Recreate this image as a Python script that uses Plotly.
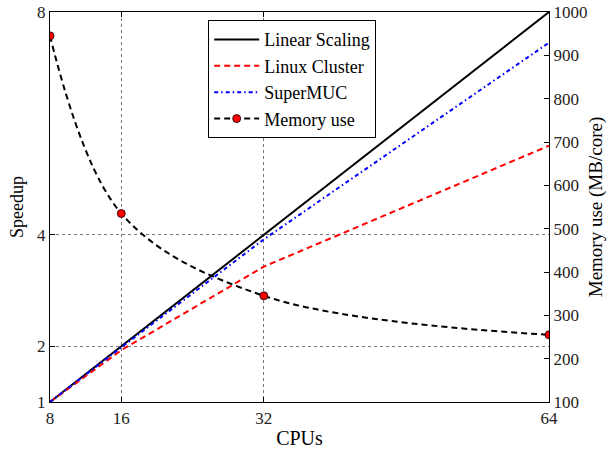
import plotly.graph_objects as go

cpus = [8, 16, 32, 64]
linear_scaling = [1, 2, 4, 8]
linux_cluster = [1, 1.93, 3.43, 5.6]
supermuc = [1, 1.98, 3.92, 7.45]
memory_use = [945, 535, 345, 255]

x_ticks = [8, 16, 32, 64]
y_ticks = [1, 2, 4, 8]
y2_ticks = [100, 200, 300, 400, 500, 600, 700, 800, 900, 1000]

FONT = "Liberation Serif"

fig = go.Figure()
fig.add_trace(go.Scatter(x=cpus, y=linear_scaling, mode="lines", name="Linear Scaling",
                         line=dict(color="black", width=2)))
fig.add_trace(go.Scatter(x=cpus, y=linux_cluster, mode="lines", name="Linux Cluster",
                         line=dict(color="red", width=2, dash="6px,4px")))
fig.add_trace(go.Scatter(x=cpus, y=supermuc, mode="lines", name="SuperMUC",
                         line=dict(color="blue", width=2, dash="4px,3px,1.5px,3px")))
fig.add_trace(go.Scatter(x=cpus, y=memory_use, mode="lines+markers", name="Memory use",
                         yaxis="y2",
                         line=dict(color="black", width=2, dash="6px,4px", shape="spline", smoothing=1),
                         marker=dict(color="red", size=8, line=dict(color="black", width=0.8))))

axis_common = dict(showline=True, linecolor="black", linewidth=1.3, ticks="inside",
                   ticklen=5, tickcolor="black", zeroline=False, automargin=False,
                   tickfont=dict(family=FONT, size=17, color="#222"))

fig.update_layout(
    width=611, height=450,
    margin=dict(l=50, r=62, t=12, b=48),
    plot_bgcolor="white", paper_bgcolor="white",
    font=dict(family=FONT, size=17, color="black"),
    showlegend=True,
    legend=dict(x=0.317, y=0.979, xanchor="left", yanchor="top",
                bgcolor="white", bordercolor="black", borderwidth=1,
                font=dict(family=FONT, size=18, color="black"),
                itemwidth=45, tracegroupgap=0),
    xaxis=dict(range=[8, 64], tickvals=x_ticks, ticktext=[str(v) for v in x_ticks],
               mirror="ticks", showgrid=True, gridcolor="#777", griddash="dot", gridwidth=1,
               title=dict(text="CPUs", font=dict(family=FONT, size=20), standoff=4),
               **axis_common),
    yaxis=dict(range=[1, 8], tickvals=y_ticks, ticktext=[str(v) for v in y_ticks],
               mirror=True, showgrid=True, gridcolor="#777", griddash="dot", gridwidth=1,
               title=dict(text="Speedup", font=dict(family=FONT, size=18), standoff=8),
               **axis_common),
    yaxis2=dict(range=[100, 1000], tickvals=y2_ticks, overlaying="y", side="right",
                showgrid=False,
                title=dict(text="Memory use (MB/core)", font=dict(family=FONT, size=19), standoff=2),
                **axis_common),
)

fig.write_html("out.html", config={"displayModeBar": False},
               post_script="document.body.style.margin='0px';")
